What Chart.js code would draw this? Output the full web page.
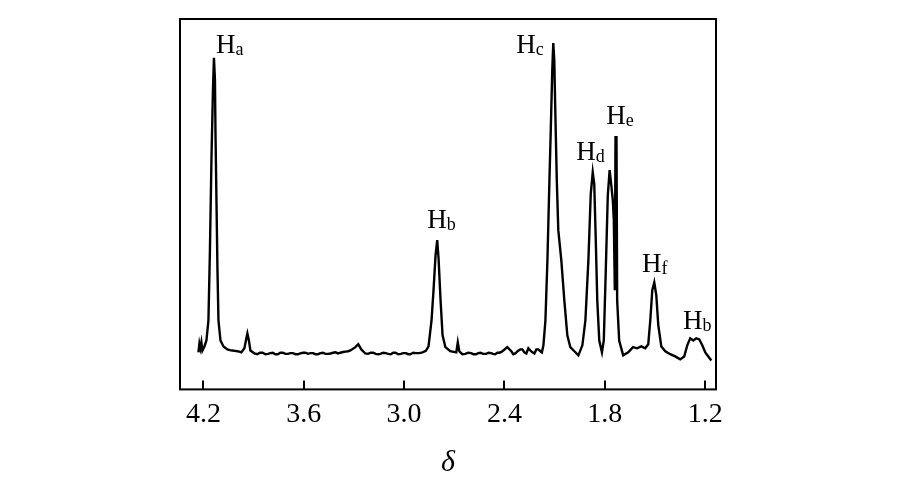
<!DOCTYPE html>
<html>
<head>
<meta charset="utf-8">
<script src="https://cdn.jsdelivr.net/npm/chart.js@4.4.1/dist/chart.umd.min.js"></script>
<style>
  html, body { margin: 0; padding: 0; background: #fff; }
  #wrap { width: 900px; height: 489px; }
</style>
</head>
<body>
<div id="wrap"><canvas id="nmr"></canvas></div>
<script>
// chemical shift (ppm) and intensity
const shift = [
  4.230, 4.224, 4.218, 4.212, 4.206, 4.194, 4.182, 4.170, 4.161, 4.152,
  4.143, 4.137, 4.131, 4.128, 4.122, 4.116, 4.110, 4.098, 4.080, 4.057,
  4.027, 3.997, 3.973, 3.955, 3.943, 3.937, 3.928, 3.919, 3.895, 3.862,
  3.829, 3.800, 3.770, 3.740, 3.710, 3.680, 3.650, 3.620, 3.590, 3.560,
  3.530, 3.500, 3.471, 3.440, 3.410, 3.381, 3.350, 3.321, 3.291, 3.274,
  3.256, 3.232, 3.200, 3.170, 3.142, 3.110, 3.080, 3.052, 3.020, 2.990,
  2.963, 2.930, 2.890, 2.854, 2.836, 2.824, 2.812, 2.802, 2.794, 2.782,
  2.770, 2.753, 2.724, 2.688, 2.679, 2.670, 2.634, 2.600, 2.570, 2.544,
  2.510, 2.480, 2.455, 2.430, 2.407, 2.383, 2.359, 2.335, 2.305, 2.281,
  2.257, 2.233, 2.209, 2.185, 2.167, 2.155, 2.143, 2.131, 2.123, 2.114,
  2.108, 2.102, 2.096, 2.087, 2.078, 2.060, 2.042, 2.024, 2.006, 1.982,
  1.958, 1.934, 1.916, 1.898, 1.884, 1.872, 1.863, 1.854, 1.845, 1.833,
  1.817, 1.806, 1.794, 1.782, 1.771, 1.761, 1.752, 1.746, 1.740, 1.736,
  1.730, 1.726, 1.714, 1.690, 1.660, 1.631, 1.607, 1.582, 1.558, 1.540,
  1.528, 1.516, 1.504, 1.492, 1.480, 1.462, 1.438, 1.409, 1.379, 1.349,
  1.325, 1.307, 1.289, 1.271, 1.253, 1.235, 1.217, 1.199, 1.181, 1.163
];
const intensity = [
  10.0, 12.4, 11.1, 12.7, 10.5, 11.6, 13.2, 18.6, 37.6, 61.9,
  80.8, 89.5, 83.5, 70.0, 51.1, 32.2, 18.6, 13.2, 11.6, 10.8,
  10.5, 10.3, 10.0, 11.1, 13.8, 15.1, 13.2, 10.5, 9.7, 9.9,
  9.5, 9.8, 9.5, 9.9, 9.6, 9.8, 9.5, 9.7, 9.9, 9.8,
  9.5, 9.8, 9.6, 9.7, 10.0, 9.9, 10.2, 10.5, 11.4, 12.2,
  10.8, 9.7, 9.9, 9.6, 9.6, 9.8, 9.5, 9.9, 9.6, 9.8,
  9.5, 9.8, 10.0, 11.6, 18.6, 26.8, 36.2, 40.3, 35.4, 24.1,
  14.6, 11.4, 10.3, 10.0, 12.7, 10.3, 9.6, 9.8, 9.5, 9.9,
  9.6, 9.8, 9.5, 9.9, 10.5, 11.4, 10.3, 9.7, 10.8, 10.0,
  11.1, 10.0, 10.8, 10.3, 11.9, 18.6, 34.9, 56.5, 70.0, 86.2,
  93.5, 88.9, 75.4, 56.5, 43.0, 34.9, 24.1, 14.6, 11.4, 10.3,
  9.2, 11.9, 18.6, 34.9, 52.7, 58.6, 55.4, 40.5, 24.1, 13.2,
  10.0, 13.2, 32.2, 52.4, 59.2, 55.1, 51.1, 45.7, 26.8, 68.1,
  68.1, 24.1, 13.2, 9.2, 10.0, 11.4, 11.1, 11.6, 11.1, 12.2,
  18.6, 26.8, 28.9, 25.4, 17.3, 11.6, 10.3, 9.5, 8.9, 8.1,
  8.9, 11.9, 13.8, 13.2, 13.8, 13.5, 11.9, 10.0, 8.9, 7.8
];
// extra baseline noise readings between the main points
const noiseShift = [
  4.068, 4.042, 4.012, 3.985,
  3.878, 3.846, 3.814, 3.785, 3.755, 3.725, 3.695, 3.665, 3.635, 3.605,
  3.575, 3.545, 3.515, 3.485, 3.455, 3.425, 3.395, 3.365, 3.335,
  3.215, 3.185, 3.155, 3.125, 3.095, 3.065, 3.035, 3.005, 2.975, 2.945,
  2.910, 2.870,
  2.652, 2.617, 2.585, 2.557, 2.527, 2.495, 2.468, 2.442, 2.418,
  2.347, 2.320, 2.293, 2.269, 2.245, 2.221, 2.197, 2.176
];
const noiseIntensity = [
  11.2, 10.6, 10.4, 10.2,
  9.5, 9.9, 9.6, 9.9, 9.5, 9.9, 9.6, 9.8, 9.5, 9.9,
  9.6, 9.8, 9.5, 9.9, 9.6, 9.9, 9.7, 10.1, 10.3,
  9.6, 9.9, 9.5, 9.9, 9.6, 9.9, 9.5, 9.8, 9.5, 9.9,
  9.8, 10.4,
  9.5, 9.9, 9.5, 9.8, 9.6, 9.9, 9.6, 9.9, 10.1,
  9.5, 10.4, 10.8, 9.7, 10.5, 9.7, 10.8, 10.0
];
const tickVals = [4.2, 3.6, 3.0, 2.4, 1.8, 1.2];
const peakSub = ['a', 'b', 'c', 'd', 'e', 'f', 'b'];
const peakShift = [4.124, 2.861, 2.329, 1.970, 1.791, 1.578, 1.333];
const peakHeight = [90.8, 43.5, 90.8, 61.9, 71.6, 31.6, 16.2];

const points = shift.map((s, i) => ({ x: s, y: intensity[i] }))
  .concat(noiseShift.map((s, i) => ({ x: s, y: noiseIntensity[i] })))
  .sort((p, q) => q.x - p.x);

const frame = {
  id: 'frame',
  afterDraw(chart) {
    const ctx = chart.ctx;
    const a = chart.chartArea;
    const xs = chart.scales.x;
    const ys = chart.scales.y;
    ctx.save();
    ctx.strokeStyle = '#000';
    ctx.lineWidth = 2;
    ctx.strokeRect(a.left, a.top, a.right - a.left, a.bottom - a.top);
    // inward ticks
    tickVals.forEach(v => {
      const px = Math.round(xs.getPixelForValue(v));
      ctx.beginPath();
      ctx.moveTo(px, a.bottom);
      ctx.lineTo(px, a.bottom - 9);
      ctx.stroke();
    });
    // peak labels
    ctx.fillStyle = '#000';
    ctx.textBaseline = 'alphabetic';
    peakSub.forEach((s, i) => {
      const px = xs.getPixelForValue(peakShift[i]);
      const py = ys.getPixelForValue(peakHeight[i]);
      ctx.font = '27px "Liberation Serif"';
      ctx.fillText('H', px, py);
      const w = ctx.measureText('H').width;
      ctx.font = '18px "Liberation Serif"';
      ctx.fillText(s, px + w, py + 2);
    });
    ctx.restore();
  }
};

new Chart(document.getElementById('nmr'), {
  type: 'scatter',
  data: {
    datasets: [{
      data: points,
      showLine: true,
      borderColor: '#000',
      borderWidth: 2.4,
      pointRadius: 0,
      tension: 0
    }]
  },
  options: {
    responsive: true,
    maintainAspectRatio: false,
    animation: false,
    layout: { padding: { left: 180, right: 184, top: 19, bottom: 8 } },
    plugins: { legend: { display: false }, tooltip: { enabled: false } },
    scales: {
      x: {
        type: 'linear',
        reverse: true,
        min: 1.135,
        max: 4.34,
        afterBuildTicks: s => { s.ticks = tickVals.map(v => ({ value: v })); },
        grid: { display: false, drawTicks: false },
        border: { display: false },
        ticks: {
          color: '#000',
          padding: 8,
          font: { family: 'Liberation Serif', size: 28 },
          callback: v => v.toFixed(1),
          maxRotation: 0
        },
        title: {
          display: true,
          text: 'δ',
          color: '#000',
          padding: { top: 6, bottom: 0 },
          font: { family: 'Liberation Serif', size: 30, style: 'italic' }
        }
      },
      y: {
        display: false,
        min: 0,
        max: 100
      }
    }
  },
  plugins: [frame]
});
</script>
</body>
</html>
